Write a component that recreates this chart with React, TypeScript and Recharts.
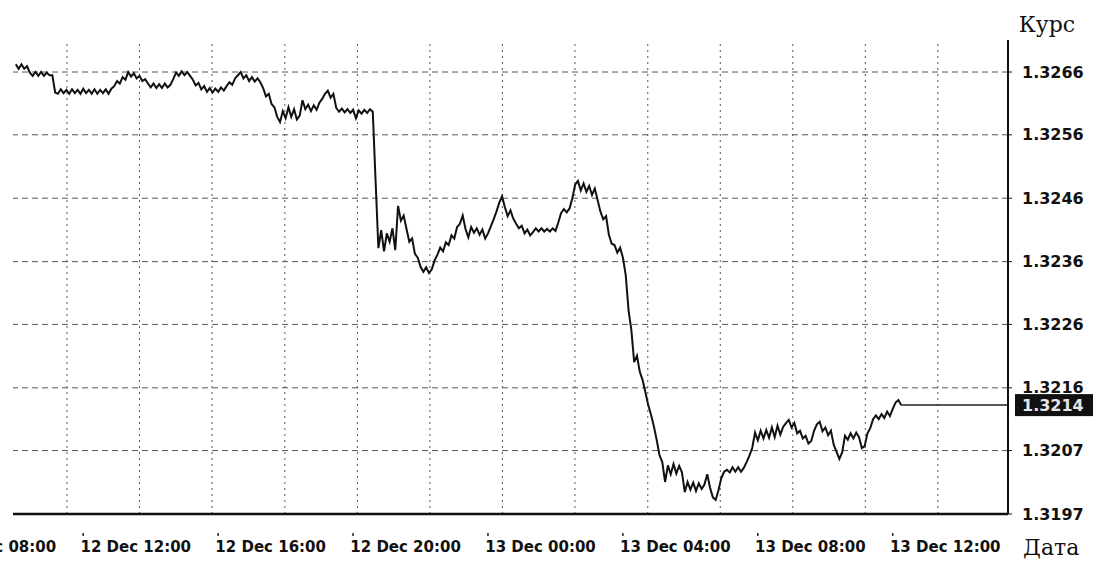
import { LineChart, Line, XAxis, YAxis, ReferenceLine } from 'recharts';

// EURUSD-style M5 closes, 12 Dec 10:05 onwards (hours counted from 12 Dec 00:00)
const startHour = 10 + 5 / 60;
const stepHours = 5 / 60;

const prices = [
  1.32672, 1.32665, 1.32672, 1.32665, 1.32669, 1.32659,
  1.32654, 1.32660, 1.32654, 1.32660, 1.32654, 1.32659, 1.32655,
  1.32655, 1.32628,
  1.32626, 1.32633, 1.32627, 1.32632, 1.32626, 1.32633, 1.32627, 1.32632, 1.32626, 1.32634,
  1.32627, 1.32632, 1.32626, 1.32633, 1.32626, 1.32632, 1.32627, 1.32633, 1.32626, 1.32634,
  1.32638, 1.32646, 1.32642, 1.32652, 1.32648, 1.32660,
  1.32653, 1.32658, 1.32650, 1.32654, 1.32646, 1.32649, 1.32642,
  1.32636, 1.32642, 1.32635, 1.32641, 1.32635, 1.32642, 1.32636, 1.32640,
  1.32649, 1.32659, 1.32654,
  1.32661, 1.32655, 1.32660, 1.32654,
  1.32648, 1.32639, 1.32643, 1.32633, 1.32638, 1.32629, 1.32635, 1.32628,
  1.32634, 1.32629, 1.32636, 1.32631, 1.32638,
  1.32644, 1.32640, 1.32650, 1.32655, 1.32660,
  1.32650, 1.32655, 1.32646, 1.32652, 1.32645, 1.32650, 1.32644,
  1.32635, 1.32622, 1.32626, 1.32610, 1.32605, 1.32590, 1.32582,
  1.32599, 1.32588, 1.32605, 1.32590, 1.32602, 1.32586, 1.32592,
  1.32616, 1.32602, 1.32609, 1.32599, 1.32608, 1.32601, 1.32612, 1.32618, 1.32626, 1.32631, 1.32620, 1.32626,
  1.32604, 1.32598, 1.32603, 1.32597, 1.32602, 1.32596, 1.32601, 1.32588,
  1.32600, 1.32595, 1.32601, 1.32596, 1.32602, 1.32598,
  1.32490, 1.32385,
  1.32413, 1.32380, 1.32408, 1.32395, 1.32416, 1.32382,
  1.32451,
  1.32428, 1.32436, 1.32415,
  1.32395, 1.32400, 1.32376, 1.32370,
  1.32356, 1.32348, 1.32355, 1.32346, 1.32352,
  1.32366, 1.32375, 1.32386, 1.32380, 1.32394, 1.32390,
  1.32405, 1.32400, 1.32418, 1.32423, 1.32436,
  1.32415, 1.32402,
  1.32418, 1.32409, 1.32416, 1.32406, 1.32414, 1.32400,
  1.32408, 1.32419, 1.32430, 1.32442, 1.32456, 1.32466,
  1.32449, 1.32435, 1.32444, 1.32431,
  1.32423, 1.32416, 1.32420, 1.32408, 1.32414, 1.32405, 1.32410,
  1.32416, 1.32411, 1.32416, 1.32411, 1.32415,
  1.32411, 1.32416, 1.32412, 1.32425, 1.32440,
  1.32446, 1.32441, 1.32447,
  1.32463, 1.32484, 1.32490,
  1.32475, 1.32486, 1.32473, 1.32482, 1.32468, 1.32478,
  1.32460,
  1.32442, 1.32430, 1.32435, 1.32406, 1.32392, 1.32390, 1.32378, 1.32386, 1.32370,
  1.32343, 1.32288, 1.32257, 1.32207, 1.32217, 1.32192, 1.32179, 1.32160, 1.32140, 1.32125,
  1.32107, 1.32086, 1.32062, 1.32051, 1.32020,
  1.32046, 1.32032, 1.32048, 1.32033, 1.32045, 1.32035,
  1.32004,
  1.32020, 1.32008, 1.32019, 1.32006, 1.32018, 1.32009, 1.32016,
  1.32032, 1.32011, 1.31996, 1.31992, 1.32007, 1.32026, 1.32036, 1.32039,
  1.32035, 1.32043, 1.32036, 1.32043, 1.32036, 1.32042,
  1.32051, 1.32061, 1.32073,
  1.32097, 1.32085, 1.32100, 1.32088, 1.32101,
  1.32089, 1.32105, 1.32090, 1.32108, 1.32094, 1.32106, 1.32112, 1.32117,
  1.32105, 1.32112, 1.32096, 1.32100, 1.32088, 1.32092, 1.32080, 1.32084,
  1.32100, 1.32110, 1.32114,
  1.32099, 1.32105, 1.32093, 1.32100,
  1.32078, 1.32067, 1.32056, 1.32066,
  1.32092, 1.32086, 1.32096, 1.32088, 1.32097, 1.32090,
  1.32073, 1.32076,
  1.32096, 1.32104, 1.32118, 1.32124,
  1.32118, 1.32126, 1.32120, 1.32130, 1.32123,
  1.32134, 1.32144, 1.32148, 1.32140,
];

const lastPrice = 1.3214;

const xDomain = [10, 39.5];
const xTicks = [8, 12, 16, 20, 24, 28, 32, 36];
const xTickLabels = [
  '12 Dec 08:00', '12 Dec 12:00', '12 Dec 16:00', '12 Dec 20:00',
  '13 Dec 00:00', '13 Dec 04:00', '13 Dec 08:00', '13 Dec 12:00',
];
const gridHours = [11.6, 13.75, 15.9, 18.06, 20.21, 22.36, 24.51, 26.66, 28.82, 30.97, 33.12, 35.27, 37.42];

const yDomain = [1.3197, 1.3271];
const yTicks = [1.3197, 1.32069, 1.32167, 1.32266, 1.32364, 1.32463, 1.32562, 1.3266];
const yTickLabels = ['1.3197', '1.3207', '1.3216', '1.3226', '1.3236', '1.3246', '1.3256', '1.3266'];

const data = prices.map((p, i) => ({ t: startHour + i * stepHours, price: p }));

const TimeTick = ({ x, y, payload }: any) => {
  const idx = xTicks.indexOf(payload.value);
  return (
    <g>
      <rect x={x + 2} y={y + 11} width={1.5} height={3} fill="#222" />
      <text x={x} y={y} dy={30} textAnchor="start" fill="#111"
        style={{ fontFamily: 'DejaVu Sans', fontSize: 15, fontWeight: 700 }}>
        {xTickLabels[idx]}
      </text>
    </g>
  );
};

const PriceBox = ({ viewBox }: any) => {
  const right = viewBox.x + viewBox.width;
  const cy = viewBox.y;
  return (
    <g>
      <rect x={right + 7} y={cy - 11} width={78} height={22} fill="#111" />
      <text x={right + 14} y={cy} dy={6} fill="#e6e6e6"
        style={{ fontFamily: 'DejaVu Sans', fontSize: 16, fontWeight: 700 }}>
        {lastPrice.toFixed(4)}
      </text>
    </g>
  );
};

export default function App() {
  const last = data[data.length - 1];
  return (
    <div style={{ position: 'absolute', left: 0, top: 0, width: 1096, height: 564, background: '#fff' }}>
      <LineChart width={1096} height={564} data={data} margin={{ top: 40, right: 0, bottom: 0, left: 13 }}>
        {yTicks.slice(1).map((v) => (
          <ReferenceLine key={v} y={v} stroke="#555" strokeDasharray="6 4" />
        ))}
        {gridHours.map((h) => (
          <ReferenceLine key={h} x={h} stroke="#555" strokeDasharray="2 4" />
        ))}
        <XAxis
          dataKey="t"
          type="number"
          domain={xDomain}
          ticks={xTicks}
          interval={0}
          allowDataOverflow
          height={50}
          tickSize={6}
          tickMargin={2}
          axisLine={{ stroke: '#111', strokeWidth: 2.5 }}
          tickLine={false}
          tick={<TimeTick />}
          label={{ value: 'Дата', position: 'right', offset: 15, dy: 8, fill: '#111', style: { fontFamily: 'DejaVu Serif', fontSize: 22 } }}
        />
        <YAxis
          orientation="right"
          type="number"
          domain={yDomain}
          ticks={yTicks}
          interval={0}
          allowDataOverflow
          width={88}
          tickSize={4}
          tickMargin={10}
          axisLine={{ stroke: '#111', strokeWidth: 2 }}
          tickLine={{ stroke: '#111' }}
          tick={{ fill: '#111', fontFamily: 'DejaVu Sans', fontSize: 16, fontWeight: 700 }}
          tickFormatter={(v: number) => yTickLabels[yTicks.indexOf(v)]}
          label={{ value: 'Курс', position: 'top', offset: 8, dx: -5, fill: '#111', style: { fontFamily: 'DejaVu Serif', fontSize: 22 } }}
        />
        <ReferenceLine
          segment={[{ x: last.t, y: lastPrice }, { x: xDomain[1], y: lastPrice }]}
          stroke="#222"
          strokeWidth={1.5}
          label={<PriceBox />}
        />
        <Line
          dataKey="price"
          type="linear"
          stroke="#111"
          strokeWidth={2}
          dot={false}
          isAnimationActive={false}
        />
      </LineChart>
    </div>
  );
}
